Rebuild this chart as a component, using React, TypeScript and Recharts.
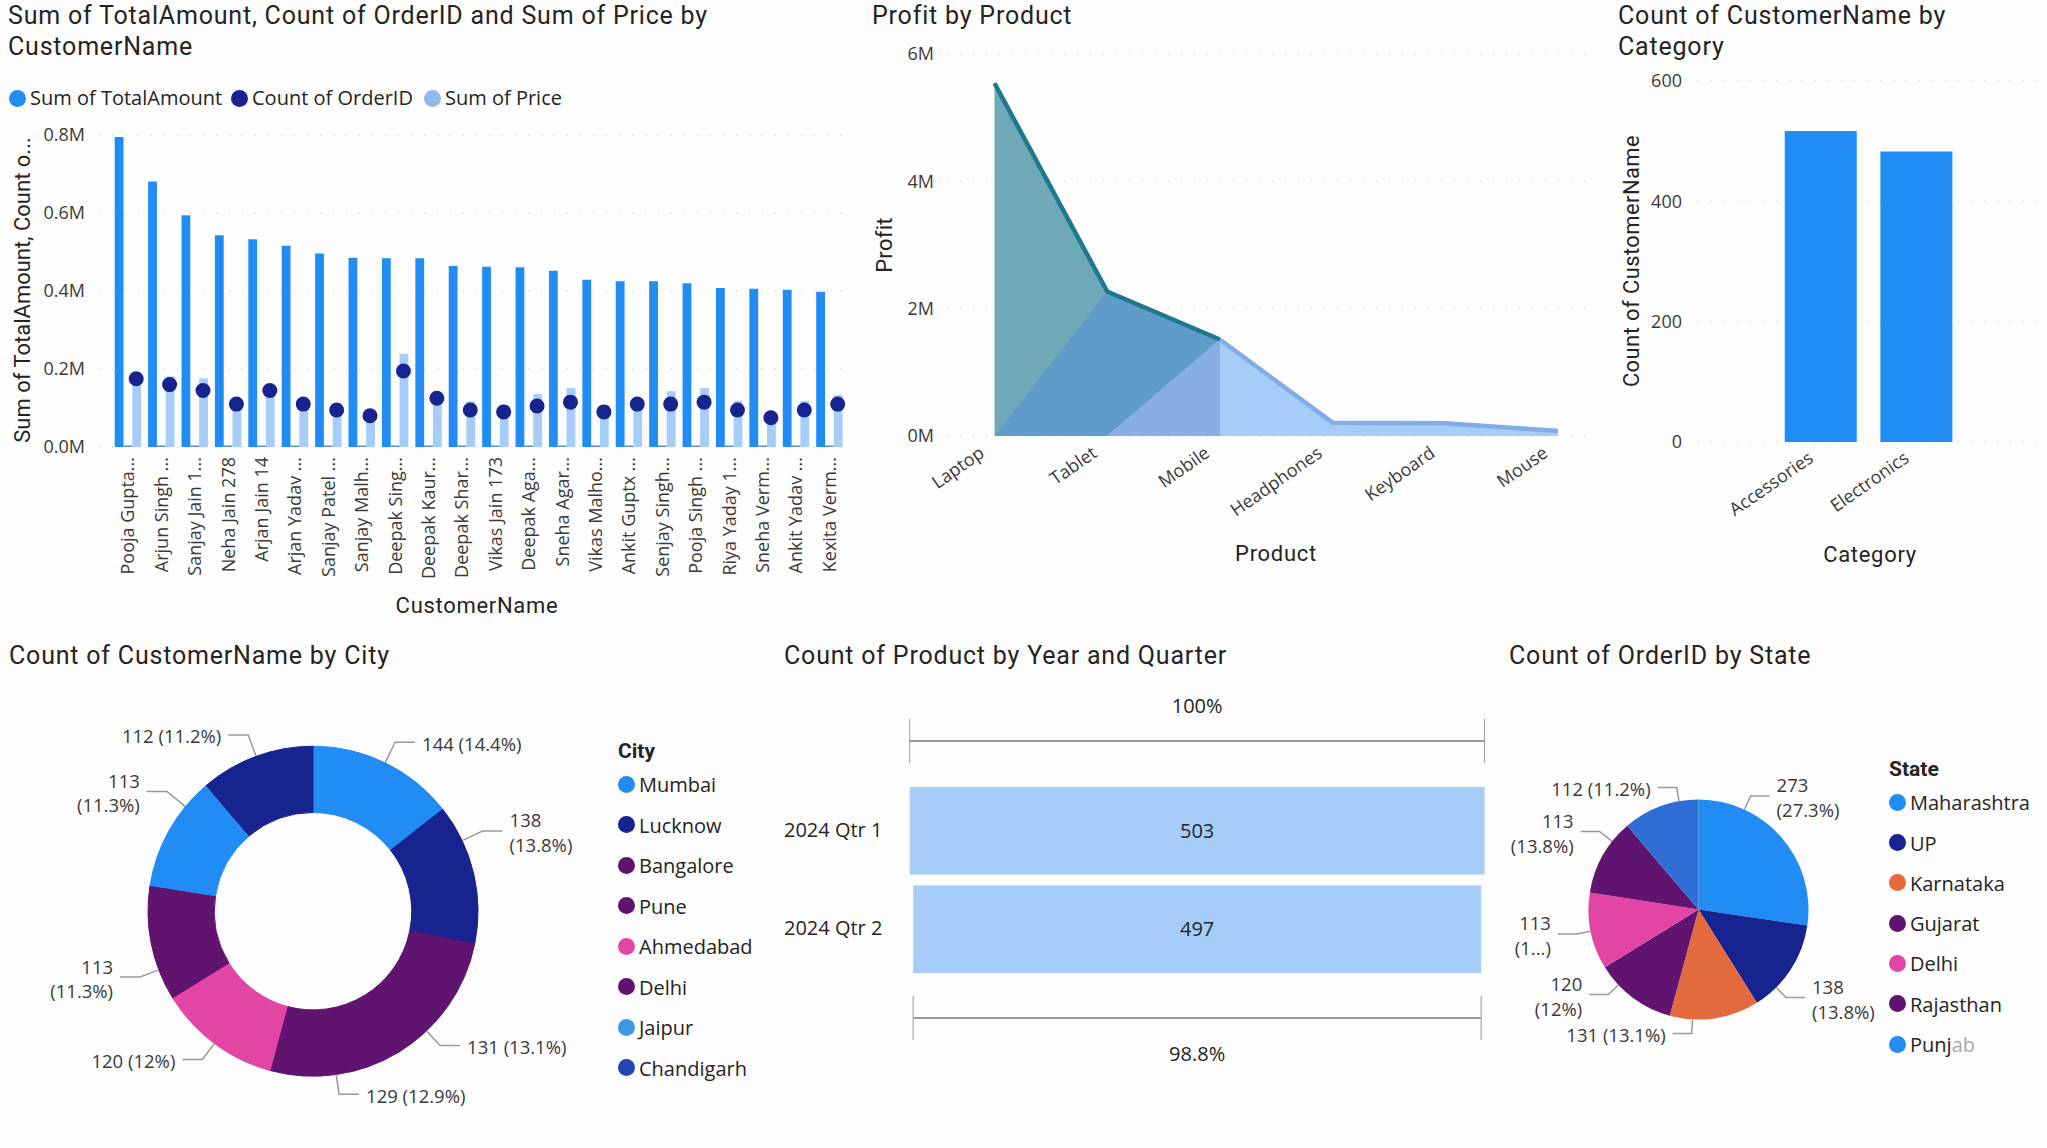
import React from 'react';
import {
  Area, Bar, BarChart, CartesianGrid, Cell, ComposedChart, LabelList, Line, Pie, PieChart, Sector, XAxis, YAxis,
} from 'recharts';

const BLUE = '#218cf4';
const NAVY = '#17238f';
const PURPLE = '#611370';
const PINK = '#e345a4';
const ORANGE = '#e36a3c';
const LIGHT = '#a5cdf8';
const TEXT = '#252423';
const TICK = '#3b3a39';
const TITLE_FONT = 'Roboto, sans-serif';
const BODY_FONT = '"Open Sans", sans-serif';

const customerNames = [
  'Pooja Gupta...', 'Arjun Singh ...', 'Sanjay Jain 1...', 'Neha Jain 278', 'Arjan Jain 14', 'Arjan Yadav ...',
  'Sanjay Patel ...', 'Sanjay Malh...', 'Deepak Sing...', 'Deepak Kaur...', 'Deepak Shar...', 'Vikas Jain 173',
  'Deepak Aga...', 'Sneha Agar...', 'Vikas Malho...', 'Ankit Guptx ...', 'Senjay Singh...', 'Pooja Singh ...',
  'Riya Yaday 1...', 'Sneha Verm...', 'Ankit Yadav ...', 'Kexita Verm...',
];
const totalAmount = [
  795000, 681000, 594000, 543000, 533000, 516000, 496000, 485000, 484000, 484000, 464000,
  462000, 461000, 452000, 429000, 425000, 425000, 420000, 408000, 406000, 403000, 398000,
];
const orderCount = [35, 32, 29, 22, 29, 22, 19, 16, 39, 25, 19, 18, 21, 23, 18, 22, 22, 23, 19, 15, 19, 22];
const price = [
  168000, 181000, 176000, 100000, 145000, 100000, 85000, 70000, 239000, 120000, 117000,
  108000, 136000, 151000, 108000, 125000, 143000, 151000, 118000, 72000, 118000, 133000,
];
const customerRows = customerNames.map((name, i) => ({ name, total: totalAmount[i], count: orderCount[i], price: price[i] }));

const products = ['Laptop', 'Tablet', 'Mobile', 'Headphones', 'Keyboard', 'Mouse'];
const profit = [5540000, 2270000, 1515000, 210000, 200000, 80000];
// the overlapping bands of the area, back to front
const bandTeal = [5540000, 2270000, null, null, null, null];
const bandBlue = [0, 2270000, 1515000, null, null, null];
const bandLight = [null, 0, 1515000, 210000, 200000, 80000];
const bandPeriwinkle = [null, 0, 1515000, null, null, null];
const productRows = products.map((name, i) => ({
  name,
  teal: bandTeal[i],
  blue: bandBlue[i],
  light: bandLight[i],
  periwinkle: bandPeriwinkle[i],
  upper: i <= 2 ? profit[i] : null,
  lower: i >= 2 ? profit[i] : null,
}));

const categories = ['Accessories', 'Electronics'];
const categoryCounts = [517, 483];
const categoryRows = categories.map((name, i) => ({ name, count: categoryCounts[i] }));

const cities = ['Mumbai', 'Lucknow', 'Bangalore', 'Pune', 'Ahmedabad', 'Delhi', 'Jaipur', 'Chandigarh'];
const cityCounts = [144, 138, 131, 129, 120, 113, 113, 112];
const cityLabels = [
  '144 (14.4%)', '138\n(13.8%)', '131 (13.1%)', '129 (12.9%)', '120 (12%)', '113\n(11.3%)', '113\n(11.3%)', '112 (11.2%)',
];
const citySlices = [BLUE, NAVY, PURPLE, PURPLE, PINK, PURPLE, BLUE, NAVY];
const cityLegend = [BLUE, NAVY, PURPLE, PURPLE, PINK, PURPLE, '#3d97e2', '#2645b5'];
const cityRows = cities.map((name, i) => ({ name, value: cityCounts[i] }));

const quarters = ['2024 Qtr 1', '2024 Qtr 2'];
const quarterCounts = [503, 497];
const quarterRates = ['100%', '98.8%'];
const quarterRows = quarters.map((name, i) => ({ name, count: quarterCounts[i], rate: quarterRates[i] }));

const states = ['Maharashtra', 'UP', 'Karnataka', 'Gujarat', 'Delhi', 'Rajasthan', 'Punjab'];
const stateCounts = [273, 138, 131, 120, 113, 113, 112];
const stateLabels = ['273\n(27.3%)', '138\n(13.8%)', '131 (13.1%)', '120\n(12%)', '113\n(1...)', '113\n(13.8%)', '112 (11.2%)'];
const stateSlices = [BLUE, NAVY, ORANGE, PURPLE, PINK, PURPLE, '#2e6ed6'];
const stateLegend = [BLUE, NAVY, ORANGE, PURPLE, PINK, PURPLE, BLUE];
const stateRows = states.map((name, i) => ({ name, value: stateCounts[i] }));

// leader lines in the reference do not all leave from the slice middle (degrees clockwise)
const cityLeader = {
  shift: [0, -12, 11.5, 0, 0, -9.5, 10, 0],
  side: [1, 1, 1, 1, -1, -1, -1, -1],
  rise: [22.8, 22.6, 20, 20, 20, 20, 24, 22.8],
  run: 20,
};
const stateLeader = {
  shift: [-24.5, 12, 11.6, 10, 0, 9, 10],
  side: [1, 1, -1, -1, -1, -1, -1],
  rise: [15, 14, 14, 14, 14, 16, 14],
  run: 19,
};

const tickStyle = { fontFamily: BODY_FONT, fontSize: 18, fill: TICK };
const funnelStyle = { fontFamily: BODY_FONT, fontSize: 20, fill: TEXT };
const noMargin = { top: 0, right: 0, bottom: 0, left: 0 };

const Title = ({ x, y, lines }: { x: number; y: number; lines: string[] }) => (
  <div style={{ position: 'absolute', left: x, top: y, fontFamily: TITLE_FONT, fontSize: 25, letterSpacing: 0.8, lineHeight: '31px', color: TEXT, whiteSpace: 'nowrap' }}>
    {lines.map(l => <div key={l}>{l}</div>)}
  </div>
);

const AxisTitle = ({ x, y, text, vertical, spacing }: { x: number; y: number; text: string; vertical?: boolean; spacing: number }) => (
  <div style={{
    position: 'absolute', left: x, top: y, fontFamily: TITLE_FONT, fontSize: 22, letterSpacing: spacing, color: TEXT, whiteSpace: 'nowrap', lineHeight: '24px',
    transform: `translate(-50%, -50%)${vertical ? ' rotate(-90deg)' : ''}`,
  }}>{text}</div>
);

const LegendList = ({ x, y, title, names, colors, step, fadeLast = 0 }: { x: number; y: number; title: string; names: string[]; colors: string[]; step: number; fadeLast?: number }) => (
  <div style={{ position: 'absolute', left: x, top: y, fontFamily: BODY_FONT, fontSize: 20, color: TEXT }}>
    <div style={{ position: 'absolute', left: 0, top: -46, lineHeight: '26px', fontWeight: 700, fontSize: 21, fontFamily: TITLE_FONT }}>{title}</div>
    {names.map((n, i) => {
      // the end of the last entry is washed out in the reference
      const cut = i === names.length - 1 ? n.length - fadeLast : n.length;
      return (
        <div key={n} style={{ position: 'absolute', left: 0, top: i * step - 13, height: 26, lineHeight: '26px', whiteSpace: 'nowrap' }}>
          <span style={{ position: 'absolute', left: 0, top: 4.5, width: 17, height: 17, borderRadius: '50%', background: colors[i] }} />
          <span style={{ position: 'absolute', left: 21, top: 1 }}>
            {n.slice(0, cut)}<span style={{ color: '#a8a8a8' }}>{n.slice(cut)}</span>
          </span>
        </div>
      );
    })}
  </div>
);

const TopLegend = () => {
  const items = [['Sum of TotalAmount', BLUE, 9], ['Count of OrderID', NAVY, 231], ['Sum of Price', '#8fb8ec', 424]] as const;
  return (
    <>
      {items.map(([label, color, left]) => (
        <div key={label} style={{ position: 'absolute', left, top: 85, height: 26, lineHeight: '26px', fontFamily: BODY_FONT, fontSize: 20, color: TEXT, whiteSpace: 'nowrap' }}>
          <span style={{ position: 'absolute', left: 0, top: 4.5, width: 17, height: 17, borderRadius: '50%', background: color }} />
          <span style={{ position: 'absolute', left: 21 }}>{label}</span>
        </div>
      ))}
    </>
  );
};

const VerticalTick = ({ x, y, payload }: any) => (
  <text x={x} y={y + 2} transform={`rotate(-90 ${x} ${y + 2})`} textAnchor="end" dominantBaseline="central" {...tickStyle}>
    {payload.value}
  </text>
);

const SlantTick = ({ x, y, payload, shift, drop }: any) => (
  <text x={x - shift} y={y + drop} transform={`rotate(-35 ${x - shift} ${y + drop})`} textAnchor="end" dominantBaseline="central" {...tickStyle}>
    {payload.value}
  </text>
);

// dots sit over the third bar of each group
const OrderDot = ({ cx, cy }: any) => <circle cx={cx + 8.8} cy={cy} r={7.5} fill={NAVY} />;

// same colour stroke, so neighbouring slices of one colour show no seam
const SeamlessSlice = (props: any) => <Sector {...props} stroke={props.fill} strokeWidth={1} />;

const pieLabel = (labels: string[], leader: typeof cityLeader) => (props: any) => {
  const { cx, cy, midAngle, outerRadius, index } = props;
  const a = ((90 - midAngle + leader.shift[index]) * Math.PI) / 180;
  const side = leader.side[index];
  const rise = leader.rise[index];
  const sx = cx + outerRadius * Math.sin(a);
  const sy = cy - outerRadius * Math.cos(a);
  const ex = cx + (outerRadius + rise) * Math.sin(a);
  const ey = cy - (outerRadius + rise) * Math.cos(a);
  const hx = ex + side * leader.run;
  const lines = labels[index].split('\n');
  return (
    <g>
      <polyline points={`${sx},${sy} ${ex},${ey} ${hx},${ey}`} fill="none" stroke="#9a9a9a" strokeWidth={1.5} />
      <text x={hx + side * 7} textAnchor={side > 0 ? 'start' : 'end'} fontFamily={BODY_FONT} fontSize={18.5} fill={TICK}>
        {lines.map((l, i) => (
          <tspan key={i} x={hx + side * 7} y={ey + (lines.length > 1 ? (i === 0 ? -11 : 13.6) : 1)} dominantBaseline="central">{l}</tspan>
        ))}
      </text>
    </g>
  );
};

const QuarterBar = ({ x, y, width, height, index, rate }: any) => {
  const up = index === 0;
  const lineY = up ? y - 46 : y + height + 45;
  const x2 = x + width;
  return (
    <g>
      <rect x={x} y={y} width={width} height={height} fill={LIGHT} />
      <line x1={x} x2={x2} y1={lineY} y2={lineY} stroke="#9a9a9a" strokeWidth={2} />
      <line x1={x} x2={x} y1={lineY - 22} y2={lineY + 22} stroke="#9a9a9a" strokeWidth={1} />
      <line x1={x2} x2={x2} y1={lineY - 22} y2={lineY + 22} stroke="#9a9a9a" strokeWidth={1} />
      <text x={x + width / 2} y={up ? lineY - 35.6 : lineY + 35.4} textAnchor="middle" dominantBaseline="central" {...funnelStyle}>{rate}</text>
    </g>
  );
};

export default function App() {
  return (
    <div style={{ position: 'absolute', left: 0, top: 0, width: 2047, height: 1148, background: '#fdfdfd', overflow: 'hidden' }}>
      {/* customers */}
      <div style={{ position: 'absolute', left: 0, top: 0 }}>
        <ComposedChart width={860} height={620} data={customerRows} margin={{ top: 135, right: 7, bottom: 0, left: 0 }} barGap={0}>
          <CartesianGrid vertical={false} stroke="#c4c4c4" strokeDasharray="1 12" yAxisId="amount" />
          <XAxis dataKey="name" interval={0} height={173} axisLine={false} tickLine={false} padding={{ left: 11.7, right: 7.4 }} tick={<VerticalTick />} />
          <YAxis yAxisId="amount" width={99} domain={[0, 800000]} ticks={[0, 200000, 400000, 600000, 800000]} axisLine={false} tickLine={false} tickSize={0} tickMargin={14}
            tick={tickStyle} tickFormatter={(v: number) => `${(v / 1000000).toFixed(1)}M`} />
          <YAxis yAxisId="orders" orientation="right" hide width={0} domain={[0, 160]} />
          <Bar yAxisId="amount" dataKey="total" fill={BLUE} barSize={8.8} isAnimationActive={false} />
          <Bar yAxisId="amount" dataKey="count" fill="#5b93b8" barSize={8.8} minPointSize={1.5} isAnimationActive={false} />
          <Bar yAxisId="amount" dataKey="price" fill={LIGHT} barSize={8.8} isAnimationActive={false} />
          <Line yAxisId="orders" dataKey="count" stroke="none" dot={<OrderDot />} isAnimationActive={false} />
        </ComposedChart>
      </div>
      <Title x={8} y={0} lines={['Sum of TotalAmount, Count of OrderID and Sum of Price by', 'CustomerName']} />
      <TopLegend />
      <AxisTitle x={23} y={290} text="Sum of TotalAmount, Count o..." vertical spacing={0} />
      <AxisTitle x={477} y={606} text="CustomerName" spacing={0.7} />

      {/* profit */}
      <div style={{ position: 'absolute', left: 860, top: 0 }}>
        <ComposedChart width={760} height={600} data={productRows} margin={{ top: 54, right: 23, bottom: 0, left: 0 }}>
          <CartesianGrid vertical={false} stroke="#c4c4c4" strokeDasharray="1 12" />
          <XAxis dataKey="name" scale="point" interval={0} height={164} axisLine={false} tickLine={false} padding={{ left: 47.5, right: 39 }} tick={<SlantTick shift={13} drop={6} />} />
          <YAxis width={87} domain={[0, 6000000]} ticks={[0, 2000000, 4000000, 6000000]} axisLine={false} tickLine={false} tickSize={0} tickMargin={13}
            tick={tickStyle} tickFormatter={(v: number) => `${v / 1000000}M`} />
          <Area dataKey="teal" type="linear" fill="#6fa9b8" fillOpacity={1} stroke="none" isAnimationActive={false} />
          <Area dataKey="blue" type="linear" fill="#5f9cc9" fillOpacity={1} stroke="none" isAnimationActive={false} />
          <Area dataKey="light" type="linear" fill={LIGHT} fillOpacity={1} stroke="none" isAnimationActive={false} />
          <Area dataKey="periwinkle" type="linear" fill="#88aee4" fillOpacity={1} stroke="none" isAnimationActive={false} />
          <Line dataKey="lower" type="linear" stroke="#82ace6" strokeWidth={4.5} dot={false} isAnimationActive={false} />
          <Line dataKey="upper" type="linear" stroke="#20788f" strokeWidth={4.5} dot={false} isAnimationActive={false} />
        </ComposedChart>
      </div>
      <Title x={872} y={0} lines={['Profit by Product']} />
      <AxisTitle x={885} y={245} text="Profit" vertical spacing={0.3} />
      <AxisTitle x={1276} y={554} text="Product" spacing={0.7} />

      {/* categories */}
      <div style={{ position: 'absolute', left: 1580, top: 0 }}>
        <BarChart width={467} height={600} data={categoryRows} margin={{ top: 81, right: 10, bottom: 0, left: 0 }}>
          <CartesianGrid vertical={false} stroke="#c4c4c4" strokeDasharray="1 12" />
          <XAxis dataKey="name" interval={0} height={158} axisLine={false} tickLine={false} padding={{ left: 74.75, right: 73 }} tick={<SlantTick shift={10} drop={5} />} />
          <YAxis width={118} domain={[0, 600]} ticks={[0, 200, 400, 600]} axisLine={false} tickLine={false} tickSize={0} tickMargin={16} tick={tickStyle} />
          <Bar dataKey="count" fill={BLUE} barSize={72} isAnimationActive={false} />
        </BarChart>
      </div>
      <Title x={1618} y={0} lines={['Count of CustomerName by', 'Category']} />
      <AxisTitle x={1632} y={261} text="Count of CustomerName" vertical spacing={0.4} />
      <AxisTitle x={1870} y={555} text="Category" spacing={0.7} />

      {/* cities */}
      <div style={{ position: 'absolute', left: 0, top: 630 }}>
        <PieChart width={780} height={518} margin={noMargin}>
          <Pie data={cityRows} dataKey="value" nameKey="name" cx={313} cy={281.2} innerRadius={98.7} outerRadius={165} startAngle={90} endAngle={-270}
            shape={SeamlessSlice} label={pieLabel(cityLabels, cityLeader)} labelLine={false} isAnimationActive={false}>
            {cityRows.map((r, i) => <Cell key={r.name} fill={citySlices[i]} />)}
          </Pie>
        </PieChart>
      </div>
      <Title x={9} y={640} lines={['Count of CustomerName by City']} />
      <LegendList x={618} y={784} title="City" names={cities} colors={cityLegend} step={40.5} />

      {/* quarters */}
      <div style={{ position: 'absolute', left: 770, top: 690 }}>
        <BarChart layout="vertical" width={730} height={380} data={quarterRows} margin={{ top: 91, right: 15.4, bottom: 92, left: 0 }}>
          <XAxis type="number" hide domain={[0, 503]} />
          <YAxis type="category" dataKey="name" width={139.7} axisLine={false} tickLine={false}
            tick={({ y, payload }: any) => <text x={14} y={y - 1} dominantBaseline="central" {...funnelStyle}>{payload.value}</text>} />
          <Bar dataKey={(r: any) => [(503 - r.count) / 2, (503 + r.count) / 2]} barSize={87.5} shape={<QuarterBar />} isAnimationActive={false}>
            <LabelList dataKey="count" position="center" style={funnelStyle} />
          </Bar>
        </BarChart>
      </div>
      <Title x={784} y={640} lines={['Count of Product by Year and Quarter']} />

      {/* states */}
      <div style={{ position: 'absolute', left: 1500, top: 630 }}>
        <PieChart width={547} height={518} margin={noMargin}>
          <Pie data={stateRows} dataKey="value" nameKey="name" cx={198.5} cy={279.6} outerRadius={110} startAngle={90} endAngle={-270}
            stroke="none" label={pieLabel(stateLabels, stateLeader)} labelLine={false} isAnimationActive={false}>
            {stateRows.map((r, i) => <Cell key={r.name} fill={stateSlices[i]} />)}
          </Pie>
        </PieChart>
      </div>
      <Title x={1509} y={640} lines={['Count of OrderID by State']} />
      <LegendList x={1889} y={802.3} title="State" names={states} colors={stateLegend} step={40.3} fadeLast={2} />
    </div>
  );
}
